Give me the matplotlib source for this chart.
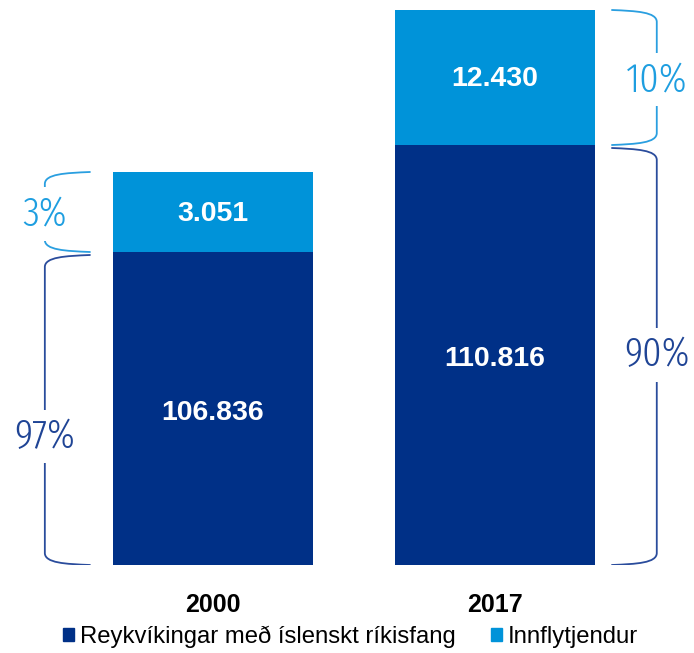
import matplotlib.pyplot as plt
from matplotlib import font_manager
from matplotlib.path import Path
from matplotlib.patches import PathPatch, Patch

years = ["2000", "2017"]
residents = [106836, 110816]
immigrants = [3051, 12430]
# the segments in the original are not drawn to scale, so keep their drawn heights
resident_heights = [313, 420]
immigrant_heights = [80, 135]
resident_share = ["97%", "90%"]
immigrant_share = ["3%", "10%"]
series_names = ["Reykvíkingar með íslenskt ríkisfang", "Innflytjendur"]

DARK = "#003087"
LIGHT = "#0093d9"
DARK_LINE = "#2a4c9c"
LIGHT_LINE = "#2a9fe0"

# thin condensed face for the percentages, first one that is installed
installed = {f.name for f in font_manager.fontManager.ttflist}
condensed = [n for n in ["Fira Sans Extra Condensed", "Barlow Condensed",
                         "Roboto Condensed"] if n in installed]
PCT_FONT = condensed[:1] + ["DejaVu Sans"]

plt.rcParams["font.family"] = ["Liberation Sans", "DejaVu Sans"]


def fmt(v):
    return f"{v:,}".replace(",", ".")


def bracket(ax, x_tip, x_vert, y0, y1, color, r=12):
    dx = x_tip - x_vert
    verts = [
        (x_tip, y1),
        (x_vert + 0.45 * dx, y1 - 1),
        (x_vert, y1 - 2),
        (x_vert, y1 - r),
        (x_vert, y0 + r),
        (x_vert, y0 + 2),
        (x_vert + 0.45 * dx, y0 + 1),
        (x_tip, y0),
    ]
    codes = [Path.MOVETO, Path.CURVE4, Path.CURVE4, Path.CURVE4,
             Path.LINETO, Path.CURVE4, Path.CURVE4, Path.CURVE4]
    ax.add_patch(PathPatch(Path(verts, codes), fc="none", ec=color, lw=1.3,
                           capstyle="round", zorder=2))


fig = plt.figure(figsize=(6.94, 6.53), dpi=100)
ax = fig.add_axes([0, 88 / 653, 1, 565 / 653])

x = [0, 1]
width = 0.709
ax.bar(x, resident_heights, width, color=DARK, zorder=3)
ax.bar(x, immigrant_heights, width, bottom=resident_heights, color=LIGHT, zorder=3)

for i in x:
    h0, h1 = resident_heights[i], immigrant_heights[i]
    ax.text(i, h0 / 2 - 4, fmt(residents[i]), ha="center", va="center",
            color="white", fontsize=20.5, fontweight="bold", zorder=4)
    ax.text(i, h0 + h1 / 2 - 2, fmt(immigrants[i]), ha="center", va="center",
            color="white", fontsize=20.5, fontweight="bold", zorder=4)

# brackets: left of the first bar, right of the second
sides = [(-0.436, -0.596), (1.415, 1.574)]
pct_offset = [-28, 0]
for i, (x_tip, x_vert) in enumerate(sides):
    h0, h1 = resident_heights[i], immigrant_heights[i]
    bracket(ax, x_tip, x_vert, 0, h0 - 3, DARK_LINE)
    bracket(ax, x_tip, x_vert, h0, h0 + h1, LIGHT_LINE)
    bbox = dict(fc="white", ec="none", pad=5)
    ax.text(x_vert, h0 / 2 + pct_offset[i], resident_share[i], ha="center",
            va="center", color="#1f4495", fontsize=30, family=PCT_FONT,
            fontweight=300, bbox=bbox, zorder=3)
    ax.text(x_vert, h0 + h1 / 2 - 2, immigrant_share[i], ha="center",
            va="center", color="#1e9ee0", fontsize=30, family=PCT_FONT,
            fontweight=300, bbox=bbox, zorder=3)

ax.set_xlim(-0.755, 1.706)
ax.set_ylim(0, 565)
ax.set_xticks(x, years, fontsize=18, fontweight="bold")
ax.tick_params(axis="x", length=0, pad=20)
ax.set_yticks([])
for s in ax.spines.values():
    s.set_visible(False)

handles = [Patch(color=DARK), Patch(color=LIGHT)]
fig.legend(handles, series_names, loc="center", bbox_to_anchor=(0.505, 0.025),
           ncol=2, frameon=False, fontsize=17.2, handlelength=0.45, handleheight=0.45,
           handletextpad=0.25, columnspacing=1.5)

fig.savefig("out.png", dpi=100)
